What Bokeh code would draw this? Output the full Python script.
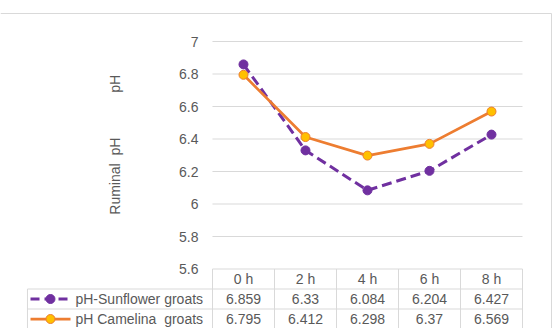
import numpy as np
from bokeh.plotting import figure
from bokeh.models import Range1d
from bokeh.embed import file_html
from bokeh.resources import INLINE
from bokeh.core.properties import value

# ---- data ----
categories = ["0 h", "2 h", "4 h", "6 h", "8 h"]
sunflower = [6.859, 6.33, 6.084, 6.204, 6.427]
camelina = [6.795, 6.412, 6.298, 6.37, 6.569]
series_names = ["pH-Sunflower groats", "pH Camelina\u00a0 groats"]
y_ticks = [5.6, 5.8, 6.0, 6.2, 6.4, 6.6, 6.8, 7.0]
y_tick_labels = ["5.6", "5.8", "6", "6.2", "6.4", "6.6", "6.8", "7"]
axis_title = "Ruminal\u00a0\u00a0pH"
axis_title_extra = "pH"

# ---- styles ----
FONT = "Liberation Sans"
TXT = "#595959"
GRID = "#d9d9d9"
PURPLE = "#7030A0"
ORANGE = "#ED7D31"
YELLOW = "#FFC000"
FS = "14px"

n = len(categories)
xs = np.arange(n)

# layout in category-index units (62 px per category, index 0 at px 243)
X_CANVAS_L = -3.919
X_CANVAS_R = 5.0
X_TABLE_L = -3.484
X_BORDER_R = 4.968
X_TICKLABEL = -0.726
X_TITLE = -2.065
X_LEG_L, X_LEG_R, X_LEG_M, X_LEG_T = -3.435, -2.79, -3.113, -2.71

# y: pH units, 7 at px 41, 5.6 at px 268.5 (162.5 px per unit)
Y_BOTTOM = 5.6 - 59.5 / 162.5
Y_TOP = 7.0 + 41 / 162.5
Y_BORDER_T = 7.0 + 28 / 162.5

p = figure(width=553, height=328,
           x_range=Range1d(X_CANVAS_L, X_CANVAS_R), y_range=Range1d(Y_BOTTOM, Y_TOP),
           output_backend="svg", toolbar_location=None,
           x_axis_location=None, y_axis_location=None,
           min_border_left=0, min_border_right=0, min_border_top=0, min_border_bottom=0)
p.outline_line_color = None
p.grid.visible = False
p.background_fill_color = "white"
p.border_fill_color = "white"

# table rows in their own range: row r spans [r, r+1], 20 px per row, row 0 top at px 268.5
p.extra_y_ranges = {"table": Range1d(start=(328 - 268.5) / 20, end=-268.5 / 20)}

common = dict(text_font=value(FONT), text_font_size=value(FS), text_color=TXT,
              text_baseline="middle")

# grid lines + tick labels
p.segment(x0=[-0.5] * len(y_ticks), y0=y_ticks, x1=[n - 0.5] * len(y_ticks), y1=y_ticks,
          line_color=GRID, line_width=1)
p.text([X_TICKLABEL] * len(y_ticks), y_ticks, text=y_tick_labels, text_align="right", **common)

# axis titles
p.text([X_TITLE], [6.171], text=[axis_title], angle=np.pi / 2, text_align="center", **common)
p.text([X_TITLE], [6.739], text=[axis_title_extra], angle=np.pi / 2, text_align="center", **common)

# chart border (top and right)
p.segment(x0=[X_CANVAS_L], y0=[Y_BORDER_T], x1=[X_BORDER_R], y1=[Y_BORDER_T],
          line_color=GRID, line_width=1)
p.segment(x0=[X_BORDER_R], y0=[Y_BORDER_T], x1=[X_BORDER_R], y1=[Y_BOTTOM],
          line_color=GRID, line_width=1)

# series
p.line(xs, sunflower, line_color=PURPLE, line_width=3, line_dash="10 5")
p.scatter(xs, sunflower, size=9, fill_color=PURPLE, line_color=PURPLE)
p.line(xs, camelina, line_color=ORANGE, line_width=2.75)
p.scatter(xs, camelina, size=9, fill_color=YELLOW, line_color=ORANGE, line_width=1)

# ---- data table ----
T = dict(y_range_name="table")
bounds = np.arange(n + 1) - 0.5
p.segment(x0=bounds, y0=[0] * (n + 1), x1=bounds, y1=[3] * (n + 1),
          line_color=GRID, line_width=1, **T)
p.segment(x0=[X_TABLE_L], y0=[1], x1=[X_TABLE_L], y1=[3], line_color=GRID, line_width=1, **T)
p.segment(x0=[X_TABLE_L] * 2, y0=[1, 2], x1=[n - 0.5] * 2, y1=[1, 2],
          line_color=GRID, line_width=1, **T)

p.text(xs, [0.5] * n, text=categories, text_align="center", **common, **T)
p.text(xs, [1.5] * n, text=[str(v) for v in sunflower], text_align="center", **common, **T)
p.text(xs, [2.5] * n, text=[str(v) for v in camelina], text_align="center", **common, **T)
p.text([X_LEG_T, X_LEG_T], [1.5, 2.5], text=series_names, text_align="left", **common, **T)

p.line([X_LEG_L, X_LEG_R], [1.5, 1.5], line_color=PURPLE, line_width=3, line_dash="9 5", **T)
p.scatter([X_LEG_M], [1.5], size=9, fill_color=PURPLE, line_color=PURPLE, **T)
p.line([X_LEG_L, X_LEG_R], [2.5, 2.5], line_color=ORANGE, line_width=2.75, **T)
p.scatter([X_LEG_M], [2.5], size=9, fill_color=YELLOW, line_color=ORANGE, line_width=1, **T)

open("out.html", "w").write(file_html(p, INLINE))
